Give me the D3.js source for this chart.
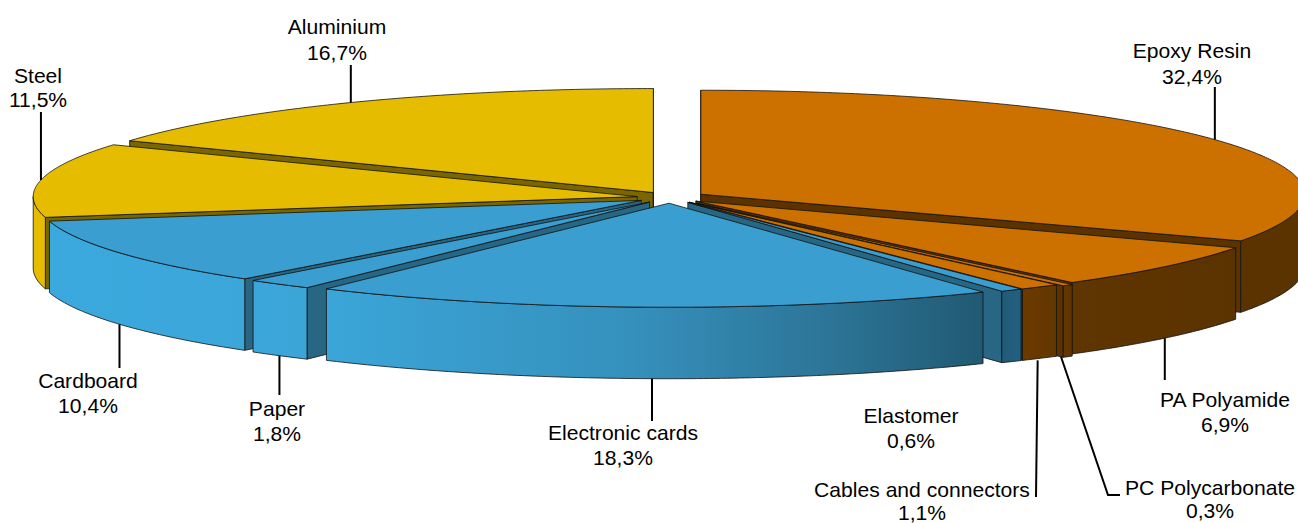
<!DOCTYPE html>
<html>
<head>
<meta charset="utf-8">
<script src="https://cdn.jsdelivr.net/npm/d3@7"></script>
<style>
html, body { margin: 0; padding: 0; background: #fff; overflow: hidden; }
text { font-family: "Liberation Sans", Arial, sans-serif; font-size: 21.1px; fill: #000; text-anchor: middle; }
</style>
</head>
<body>
<div id="chart"></div>
<script>
// slices, clockwise from 12 o'clock
var categories = ["Epoxy Resin", "PA Polyamide", "PC Polycarbonate", "Cables and connectors", "Elastomer",
	"Electronic cards", "Paper", "Cardboard", "Steel", "Aluminium"];
var shares = [32.4, 6.9, 0.3, 1.1, 0.6, 18.3, 1.8, 10.4, 11.5, 16.7];
var shareLabels = ["32,4%", "6,9%", "0,3%", "1,1%", "0,6%", "18,3%", "1,8%", "10,4%", "11,5%", "16,7%"];
var groups = ["orange", "orange", "orange", "orange", "blue", "blue", "blue", "blue", "yellow", "yellow"];

// how far each slice is pulled out, fraction of radius
var explodes = [0.06, 0.055, 0.07, 0.055, 0.055, 0.055, 0.055, 0.055, 0.055, 0.055];

// label placement: centre x, baseline of first line, baseline of second line
var labelX = [1192, 1225, 1210, 922, 911, 623, 277, 88, 38, 337];
var labelY1 = [58, 407, 495, 497, 423, 440, 416, 388, 83, 34];
var labelY2 = [84, 432, 518, 520, 448, 465, 441, 413, 107, 60];

var width = 1298, height = 523;
var cx = 670, cy = 197.5, depth = 71.5;

// flattened 3d view, unit circle -> screen
var sx = d3.scaleLinear().domain([-1, 1]).range([-604, 604]);
var sy = d3.scaleLinear().domain([-1, 1]).range([-104, 104]);

var svg = d3.select("#chart").append("svg")
	.attr("width", width)
	.attr("height", height)
	.style("display", "block");

var defs = svg.append("defs");

function addGradient(id, x1, x2, stops) {
	var g = defs.append("linearGradient")
		.attr("id", id)
		.attr("gradientUnits", "userSpaceOnUse")
		.attr("x1", x1).attr("x2", x2).attr("y1", 0).attr("y2", 0);
	stops.forEach(function(s) {
		g.append("stop").attr("offset", s[0]).attr("stop-color", s[1]);
	});
}
addGradient("wallBlue", 50, 1020, [[0, "#3BA9DE"], [0.29, "#3BA5D8"], [0.6, "#3590BC"], [0.8, "#2D7598"], [0.97, "#205870"], [1, "#22607F"]]);
addGradient("wallOrange", 1021, 1240, [[0, "#6B3A00"], [0.25, "#5F3500"], [1, "#5A3300"]]);

var colors = {
	orange: { top: "#CC7000", wall: "url(#wallOrange)", cut: "#5A3300" },
	blue: { top: "#3A9FD0", wall: "url(#wallBlue)", cut: "#276783" },
	yellow: { top: "#E5BC00", wall: "#E5BC00", cut: "#7A6600" }
};

var pie = d3.pie().sort(null).startAngle(0).endAngle(2 * Math.PI);
var slices = pie(shares).map(function(d, i) {
	var mid = (d.startAngle + d.endAngle) / 2;
	return {
		i: i,
		a0: d.startAngle,
		a1: d.endAngle,
		mid: mid,
		ax: cx + sx(Math.sin(mid) * explodes[i]),
		ay: cy + sy(-Math.cos(mid) * explodes[i]),
		group: groups[i]
	};
});

function rimX(s, a) { return s.ax + sx(Math.sin(a)); }
function rimY(s, a) { return s.ay + sy(-Math.cos(a)); }

function arcPoints(s, a0, a1, dy) {
	var n = Math.max(2, Math.ceil((a1 - a0) / 0.01));
	return d3.range(n + 1).map(function(k) {
		var a = a0 + (a1 - a0) * k / n;
		return [rimX(s, a), rimY(s, a) + dy];
	});
}

var line = d3.line();

function face(points, fill) {
	svg.append("path")
		.attr("d", line(points) + "Z")
		.attr("fill", fill)
		.attr("stroke", "#111")
		.attr("stroke-width", 0.8)
		.attr("stroke-linejoin", "round");
}

// back to front
d3.sort(slices, function(s) { return -Math.cos(s.mid); }).forEach(function(s) {
	var c = colors[s.group];

	// cut faces, only those turned to the viewer
	[[s.a0, s.a0 - Math.PI / 2], [s.a1, s.a1 + Math.PI / 2]].forEach(function(w) {
		if (-Math.cos(w[1]) > -0.001) {
			var x = rimX(s, w[0]), y = rimY(s, w[0]);
			face([[s.ax, s.ay], [x, y], [x, y + depth], [s.ax, s.ay + depth]], c.cut);
		}
	});

	// rim, front half only
	var from = Math.max(s.a0, Math.PI / 2), to = Math.min(s.a1, 3 * Math.PI / 2);
	if (to > from) {
		var upper = arcPoints(s, from, to, 0);
		var lower = arcPoints(s, from, to, depth).reverse();
		face(upper.concat(lower), c.wall);
	}

	// top
	face([[s.ax, s.ay]].concat(arcPoints(s, s.a0, s.a1, 0)), c.top);
});

// leader lines: outer end comes from the slice, inner end goes to the label
function leader(pts) {
	svg.append("path")
		.attr("d", line(pts))
		.attr("fill", "none")
		.attr("stroke", "#000")
		.attr("stroke-width", 2);
}
function rimPoint(i, dy) {
	var s = slices[i];
	return [rimX(s, s.mid), rimY(s, s.mid) + dy];
}
var p;
p = rimPoint(0, 0); leader([p, [p[0], 87]]);
p = rimPoint(1, depth); leader([p, [p[0], 380]]);
p = rimPoint(2, depth); leader([[1061, p[1]], [1108, 495], [1120, 495]]);
p = rimPoint(3, depth); leader([[p[0] - 2, p[1] + 2], [1036, 497]]);
p = rimPoint(5, depth); leader([p, [p[0], 421]]);
p = rimPoint(6, depth); leader([p, [p[0], 395]]);
p = rimPoint(7, depth); leader([p, [p[0], 368]]);
p = rimPoint(8, 0); leader([p, [p[0], 112]]);
p = rimPoint(9, 0); leader([p, [p[0], 65]]);

categories.forEach(function(name, i) {
	svg.append("text").attr("x", labelX[i]).attr("y", labelY1[i]).text(name);
	svg.append("text").attr("x", labelX[i]).attr("y", labelY2[i]).text(shareLabels[i]);
});
</script>
</body>
</html>
